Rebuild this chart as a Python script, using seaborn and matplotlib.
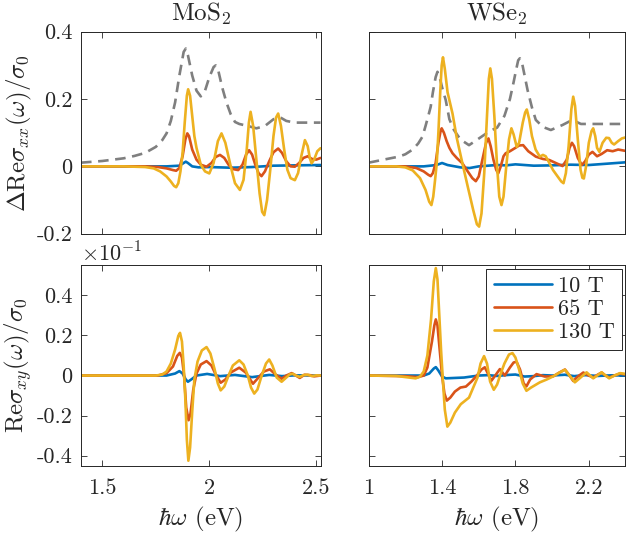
import seaborn as sns
import matplotlib
matplotlib.use("Agg")
import matplotlib.pyplot as plt

# ---- data (x in eV) ----
fields = ["10 T", "65 T", "130 T"]
colors = ["#0072BD", "#D95319", "#EDB120"]

# MoS2, Delta Re sigma_xx / sigma_0
mos2_abs_x = [1.40, 1.50, 1.60, 1.65, 1.70, 1.75, 1.78, 1.80, 1.82, 1.84, 1.86, 1.88, 1.89, 1.90, 1.92,
              1.94, 1.96, 1.98, 2.00, 2.02, 2.03, 2.04, 2.06, 2.08, 2.10, 2.12, 2.14, 2.18, 2.22, 2.26,
              2.30, 2.33, 2.36, 2.40, 2.45, 2.52]
mos2_abs_y = [0.011, 0.016, 0.024, 0.031, 0.040, 0.058, 0.078, 0.098, 0.135, 0.19, 0.27, 0.34, 0.35, 0.33, 0.27,
              0.225, 0.208, 0.225, 0.265, 0.295, 0.30, 0.29, 0.235, 0.19, 0.155, 0.132, 0.126, 0.12, 0.113, 0.12,
              0.14, 0.146, 0.135, 0.130, 0.130, 0.130]

mos2_xx_x = {
    "10 T": [1.40, 1.80, 1.86, 1.88, 1.89, 1.90, 1.92, 1.95, 2.00, 2.10, 2.20, 2.30, 2.40, 2.52],
    "65 T": [1.40, 1.70, 1.76, 1.80, 1.83, 1.845, 1.86, 1.875, 1.888, 1.897, 1.905, 1.92, 1.94, 1.96, 1.987,
             2.01, 2.03, 2.05, 2.07, 2.09, 2.11, 2.135, 2.155, 2.172, 2.186, 2.20, 2.215, 2.23, 2.244, 2.26,
             2.28, 2.30, 2.322, 2.34, 2.36, 2.38, 2.40, 2.42, 2.44, 2.46, 2.48, 2.50, 2.52],
    "130 T": [1.40, 1.60, 1.70, 1.74, 1.77, 1.80, 1.82, 1.835, 1.845, 1.855, 1.865, 1.875, 1.885, 1.895, 1.901,
              1.91, 1.92, 1.93, 1.94, 1.96, 1.98, 2.00, 2.02, 2.04, 2.057, 2.075, 2.10, 2.12, 2.143, 2.16,
              2.175, 2.185, 2.193, 2.205, 2.22, 2.235, 2.247, 2.257, 2.27, 2.285, 2.30, 2.312, 2.322, 2.335,
              2.35, 2.365, 2.38, 2.40, 2.415, 2.43, 2.447, 2.46, 2.47, 2.478, 2.49, 2.505, 2.52],
}
mos2_xx_y = {
    "10 T": [0, 0, 0.002, 0.010, 0.014, 0.010, 0.0, -0.003, -0.002, -0.004, -0.002, 0.002, 0.003, 0.004],
    "65 T": [0, 0, -0.002, -0.006, -0.011, -0.013, -0.005, 0.03, 0.08, 0.098, 0.09, 0.05, 0.02, 0.005, -0.001,
             0.01, 0.028, 0.034, 0.025, 0.005, -0.008, -0.011, 0.005, 0.035, 0.048, 0.035, 0.005, -0.02, -0.029, -0.015,
             0.015, 0.042, 0.053, 0.04, 0.015, 0.0, -0.001, 0.01, 0.025, 0.03, 0.022, 0.02, 0.025],
    "130 T": [0, 0, -0.002, -0.006, -0.015, -0.03, -0.045, -0.058, -0.062, -0.05, -0.015, 0.04, 0.13, 0.21, 0.229,
              0.21, 0.15, 0.09, 0.055, 0.005, -0.015, -0.021, 0.01, 0.075, 0.098, 0.07, 0.0, -0.05, -0.070, -0.04,
              0.05, 0.13, 0.162, 0.12, 0.02, -0.08, -0.135, -0.145, -0.10, -0.01, 0.09, 0.145, 0.157, 0.12,
              0.05, -0.01, -0.035, -0.041, -0.02, 0.03, 0.078, 0.06, 0.025, 0.009, 0.02, 0.045, 0.054],
}

# WSe2, Delta Re sigma_xx / sigma_0
wse2_abs_x = [1.00, 1.10, 1.165, 1.20, 1.24, 1.27, 1.293, 1.31, 1.325, 1.338, 1.35, 1.365, 1.375, 1.385, 1.40,
              1.42, 1.44, 1.465, 1.50, 1.547, 1.58, 1.62, 1.66, 1.70, 1.74, 1.77, 1.79, 1.805, 1.815, 1.824,
              1.835, 1.85, 1.866, 1.89, 1.911, 1.95, 1.993, 2.057, 2.11, 2.157, 2.25, 2.40]
wse2_abs_y = [0.011, 0.022, 0.029, 0.036, 0.05, 0.068, 0.088, 0.12, 0.15, 0.177, 0.22, 0.265, 0.281, 0.27, 0.235,
              0.197, 0.14, 0.108, 0.08, 0.063, 0.075, 0.09, 0.105, 0.115, 0.15, 0.2, 0.25, 0.29, 0.315, 0.321,
              0.31, 0.27, 0.227, 0.175, 0.138, 0.117, 0.108, 0.123, 0.138, 0.126, 0.126, 0.126]

wse2_xx_x = {
    "10 T": [1.00, 1.30, 1.37, 1.40, 1.43, 1.50, 1.55, 1.60, 1.70, 1.75, 1.80, 1.85, 1.90, 2.00, 2.10, 2.20,
             2.30, 2.40],
    "65 T": [1.00, 1.20, 1.26, 1.30, 1.325, 1.338, 1.35, 1.365, 1.38, 1.392, 1.398, 1.41, 1.425, 1.44, 1.457,
             1.48, 1.511, 1.54, 1.565, 1.584, 1.60, 1.62, 1.64, 1.653, 1.665, 1.68, 1.695, 1.706, 1.72, 1.735,
             1.747, 1.77, 1.80, 1.82, 1.842, 1.87, 1.911, 1.95, 1.984, 2.02, 2.057, 2.08, 2.095, 2.108, 2.12,
             2.14, 2.162, 2.18, 2.20, 2.22, 2.245, 2.27, 2.30, 2.33, 2.36, 2.40],
    "130 T": [1.00, 1.15, 1.20, 1.24, 1.28, 1.31, 1.33, 1.342, 1.352, 1.362, 1.371, 1.38, 1.39, 1.398, 1.405,
              1.415, 1.43, 1.457, 1.48, 1.511, 1.54, 1.57, 1.59, 1.602, 1.615, 1.63, 1.645, 1.655, 1.663, 1.672,
              1.685, 1.70, 1.712, 1.724, 1.735, 1.75, 1.765, 1.778, 1.79, 1.807, 1.82, 1.84, 1.853, 1.862, 1.875,
              1.89, 1.91, 1.933, 1.95, 1.965, 1.98, 2.005, 2.03, 2.05, 2.062, 2.075, 2.09, 2.105, 2.115, 2.125,
              2.14, 2.155, 2.165, 2.173, 2.185, 2.20, 2.215, 2.224, 2.235, 2.245, 2.258, 2.275, 2.295, 2.31,
              2.325, 2.338, 2.36, 2.38, 2.40],
}
wse2_xx_y = {
    "10 T": [0, 0, 0.004, 0.010, 0.004, -0.003, -0.005, 0.0, 0.004, 0.003, 0.006, 0.004, 0.002, 0.003, 0.005,
             0.004, 0.008, 0.012],
    "65 T": [0, 0, -0.005, -0.015, -0.025, -0.029, -0.02, 0.01, 0.07, 0.105, 0.113, 0.10, 0.075, 0.055, 0.039,
             0.025, 0.009, -0.015, -0.035, -0.044, -0.03, 0.02, 0.07, 0.083, 0.06, 0.02, -0.01, -0.021, 0.0, 0.03,
             0.039, 0.045, 0.055, 0.062, 0.063, 0.045, 0.029, 0.022, 0.019, 0.01, 0.001, 0.02, 0.055, 0.070, 0.06,
             0.025, 0.004, 0.015, 0.035, 0.043, 0.03, 0.037, 0.048, 0.045, 0.05, 0.046],
    "130 T": [0, 0, -0.003, -0.012, -0.035, -0.07, -0.105, -0.115, -0.09, -0.04, 0.009, 0.10, 0.22, 0.30, 0.324,
              0.29, 0.22, 0.157, 0.085, 0.009, -0.06, -0.13, -0.172, -0.179, -0.14, -0.02, 0.15, 0.26, 0.291, 0.26,
              0.15, 0.0, -0.09, -0.115, -0.09, 0.0, 0.08, 0.113, 0.095, 0.058, 0.07, 0.13, 0.16, 0.169, 0.14,
              0.09, 0.05, 0.029, 0.034, 0.03, 0.015, -0.011, -0.03, -0.045, -0.05, -0.02, 0.06, 0.17, 0.207, 0.18,
              0.08, -0.01, -0.034, -0.036, 0.0, 0.07, 0.105, 0.113, 0.09, 0.055, 0.043, 0.07, 0.085, 0.084,
              0.07, 0.065, 0.075, 0.083, 0.086],
}

# MoS2, Re sigma_xy / sigma_0 (x10^-1)
mos2_xy_x = {
    "10 T": [1.40, 1.80, 1.84, 1.86, 1.875, 1.89, 1.90, 1.915, 1.94, 1.99, 2.05, 2.12, 2.20, 2.28, 2.34, 2.40,
             2.52],
    "65 T": [1.40, 1.76, 1.80, 1.83, 1.85, 1.862, 1.872, 1.882, 1.892, 1.903, 1.912, 1.925, 1.94, 1.96, 1.987,
             2.01, 2.03, 2.053, 2.075, 2.10, 2.14, 2.17, 2.204, 2.23, 2.255, 2.283, 2.31, 2.338, 2.36, 2.385,
             2.405, 2.423, 2.445, 2.47, 2.49, 2.52],
    "130 T": [1.40, 1.75, 1.78, 1.80, 1.82, 1.84, 1.855, 1.863, 1.872, 1.88, 1.888, 1.895, 1.902, 1.91, 1.92,
              1.93, 1.945, 1.965, 1.987, 2.005, 2.025, 2.04, 2.053, 2.07, 2.09, 2.11, 2.14, 2.16, 2.18, 2.195,
              2.21, 2.225, 2.245, 2.265, 2.28, 2.295, 2.315, 2.338, 2.36, 2.375, 2.39, 2.405, 2.423, 2.44, 2.46,
              2.48, 2.50, 2.52],
}
mos2_xy_y = {
    "10 T": [0, 0, 0.01, 0.022, 0.01, -0.02, -0.031, -0.02, 0.0, 0.008, -0.003, 0.003, -0.008, 0.003, -0.003,
             0.001, 0.0],
    "65 T": [0, 0, 0.012, 0.045, 0.098, 0.113, 0.09, 0.0, -0.16, -0.223, -0.19, -0.07, 0.01, 0.055, 0.072,
             0.05, 0.005, -0.036, -0.02, 0.015, 0.039, 0.015, -0.041, -0.01, 0.02, 0.031, 0.005, -0.016, 0.0, 0.012,
             0.0, -0.012, 0.004, 0.002, -0.004, 0.0],
    "130 T": [0, 0, 0.005, 0.02, 0.06, 0.13, 0.198, 0.213, 0.17, 0.05, -0.12, -0.32, -0.425, -0.36, -0.18,
              -0.02, 0.07, 0.125, 0.142, 0.11, 0.03, -0.04, -0.074, -0.055, 0.0, 0.05, 0.076, 0.055, 0.0, -0.06,
              -0.090, -0.07, 0.0, 0.06, 0.080, 0.05, -0.01, -0.031, -0.01, 0.005, 0.009, 0.0, -0.007, 0.002, 0.004,
              -0.003, 0.001, 0.0],
}

# WSe2, Re sigma_xy / sigma_0 (x10^-1)
wse2_xy_x = {
    "10 T": [1.00, 1.30, 1.33, 1.355, 1.366, 1.38, 1.40, 1.42, 1.47, 1.52, 1.56, 1.60, 1.65, 1.70, 1.76, 1.80,
             1.85, 1.90, 1.95, 2.00, 2.07, 2.12, 2.18, 2.25, 2.32, 2.40],
    "65 T": [1.00, 1.20, 1.27, 1.30, 1.32, 1.345, 1.358, 1.366, 1.375, 1.385, 1.40, 1.413, 1.426, 1.445, 1.47,
             1.50, 1.53, 1.56, 1.59, 1.615, 1.633, 1.65, 1.669, 1.69, 1.715, 1.742, 1.77, 1.79, 1.806, 1.825,
             1.845, 1.86, 1.88, 1.915, 1.96, 2.006, 2.04, 2.07, 2.095, 2.115, 2.14, 2.17, 2.20, 2.224, 2.25,
             2.27, 2.29, 2.311, 2.34, 2.37, 2.40],
    "130 T": [1.00, 1.15, 1.22, 1.256, 1.28, 1.30, 1.32, 1.34, 1.355, 1.366, 1.375, 1.385, 1.395, 1.405, 1.415,
              1.429, 1.445, 1.47, 1.502, 1.547, 1.57, 1.593, 1.61, 1.629, 1.645, 1.662, 1.682, 1.70, 1.72, 1.74,
              1.765, 1.784, 1.80, 1.82, 1.84, 1.86, 1.885, 1.933, 1.97, 2.006, 2.04, 2.07, 2.095, 2.124, 2.155,
              2.188, 2.224, 2.27, 2.311, 2.34, 2.37, 2.40],
}
wse2_xy_y = {
    "10 T": [0, 0, 0.01, 0.035, 0.042, 0.025, -0.005, -0.014, -0.012, -0.01, -0.005, 0.0, 0.002, -0.002, 0.003,
             0.005, -0.005, -0.003, 0.002, 0.0, 0.004, -0.003, 0.002, -0.002, 0.001, 0.0],
    "65 T": [0, -0.003, -0.008, 0.0, 0.04, 0.17, 0.25, 0.28, 0.25, 0.15, 0.0, -0.09, -0.125, -0.11, -0.08,
             -0.06, -0.055, -0.03, 0.0, 0.03, 0.041, 0.01, -0.026, 0.0, 0.032, 0.0, 0.04, 0.065, 0.069, 0.03,
             -0.04, -0.054, -0.02, 0.007, -0.005, -0.004, 0.015, 0.03, 0.0, -0.027, -0.005, 0.015, 0.0, -0.01, 0.005,
             0.015, 0.0, -0.01, 0.0, 0.01, 0.005],
    "130 T": [0, -0.002, -0.01, -0.014, -0.005, 0.02, 0.1, 0.28, 0.47, 0.536, 0.48, 0.3, 0.12, -0.03, -0.17,
              -0.255, -0.235, -0.185, -0.143, -0.11, -0.06, -0.011, 0.06, 0.097, 0.06, -0.03, -0.071, -0.045, 0.01, 0.06,
              0.105, 0.112, 0.09, 0.03, -0.04, -0.076, -0.06, -0.034, -0.02, -0.004, 0.015, 0.029, 0.0, -0.034, -0.01,
              0.016, -0.014, 0.016, -0.014, 0.0, 0.012, 0.008],
}

# ---- style ----
sns.set_theme(style="ticks")
plt.rcParams["font.family"] = ["cmr10", "DejaVu Serif"]
plt.rcParams["mathtext.fontset"] = "cm"
plt.rcParams["axes.unicode_minus"] = False
plt.rcParams["axes.formatter.use_mathtext"] = True
ink = "#262626"
fs = 16       # tick labels
fl = 18       # axis labels and titles
lw = 1.9

fig = plt.figure(figsize=(6.27, 5.35), dpi=100)
ax_tl = fig.add_axes([0.1292, 0.5632, 0.3820, 0.3775])
ax_tr = fig.add_axes([0.5880, 0.5632, 0.4096, 0.3775])
ax_bl = fig.add_axes([0.1292, 0.1295, 0.3820, 0.3746])
ax_br = fig.add_axes([0.5880, 0.1295, 0.4096, 0.3746])


def draw(ax, xs, ys, ref_x=None, ref_y=None):
    if ref_x is not None:
        sns.lineplot(x=ref_x, y=ref_y, ax=ax, color="#7f7f7f", linewidth=lw,
                     legend=False, errorbar=None)
        ax.lines[-1].set_dashes([4, 2.5])
    for f, c in zip(fields, colors):
        sns.lineplot(x=xs[f], y=ys[f], ax=ax, color=c, linewidth=lw, label=f,
                     legend=False, errorbar=None)


draw(ax_tl, mos2_xx_x, mos2_xx_y, mos2_abs_x, mos2_abs_y)
draw(ax_tr, wse2_xx_x, wse2_xx_y, wse2_abs_x, wse2_abs_y)
draw(ax_bl, mos2_xy_x, mos2_xy_y)
draw(ax_br, wse2_xy_x, wse2_xy_y)

for ax in [ax_tl, ax_tr, ax_bl, ax_br]:
    ax.tick_params(direction="in", top=True, right=True, length=4, width=0.6,
                   colors=ink, labelsize=fs)
    ax.tick_params(axis="x", pad=9)
    ax.tick_params(axis="y", pad=6)
    for s in ax.spines.values():
        s.set_color(ink)
        s.set_linewidth(0.7)
    ax.set_xlabel("")
    ax.set_ylabel("")

for ax in [ax_tl, ax_bl]:
    ax.set_xlim(1.4, 2.52)
    ax.set_xticks([1.5, 2, 2.5])
for ax in [ax_tr, ax_br]:
    ax.set_xlim(1.0, 2.4)
    ax.set_xticks([1.0, 1.4, 1.8, 2.2])
for ax in [ax_tl, ax_tr]:
    ax.set_ylim(-0.2, 0.4)
    ax.set_yticks([-0.2, 0, 0.2, 0.4])
    ax.set_xticklabels([])
for ax in [ax_bl, ax_br]:
    ax.set_ylim(-0.45, 0.55)
    ax.set_yticks([-0.4, -0.2, 0, 0.2, 0.4])

ax_tl.set_yticklabels(["-0.2", "0", "0.2", "0.4"])
ax_tr.set_yticklabels([])
ax_bl.set_yticklabels(["-0.4", "-0.2", "0", "0.2", "0.4"])
ax_br.set_yticklabels([])
ax_bl.set_xticklabels(["1.5", "2", "2.5"])
ax_br.set_xticklabels(["1", "1.4", "1.8", "2.2"])

ax_tl.set_title("MoS$_2$", fontsize=fl, color=ink, pad=8)
ax_tr.set_title("WSe$_2$", fontsize=fl, color=ink, pad=8)
ax_tl.set_ylabel(r"$\Delta\mathrm{Re}\sigma_{xx}(\omega)/\sigma_0$", fontsize=fl, color=ink, labelpad=2)
ax_bl.set_ylabel(r"$\mathrm{Re}\sigma_{xy}(\omega)/\sigma_0$", fontsize=fl, color=ink, labelpad=2)
ax_bl.set_xlabel(r"$\hbar\omega$ (eV)", fontsize=fl, color=ink, labelpad=5)
ax_br.set_xlabel(r"$\hbar\omega$ (eV)", fontsize=fl, color=ink, labelpad=5)
ax_bl.text(0.0, 1.0, r"$\times10^{-1}$", transform=ax_bl.transAxes, fontsize=fs,
           color=ink, ha="left", va="bottom")

leg = ax_br.legend(loc="upper right", fontsize=fs, handlelength=2.6, frameon=True,
                   fancybox=False, borderaxespad=0.15, labelspacing=0.15, handletextpad=0.25,
                   borderpad=0.35)
leg.get_frame().set_edgecolor(ink)
leg.get_frame().set_linewidth(0.7)
leg.get_frame().set_alpha(1)

fig.savefig("out.png", dpi=100)
plt.close(fig)
